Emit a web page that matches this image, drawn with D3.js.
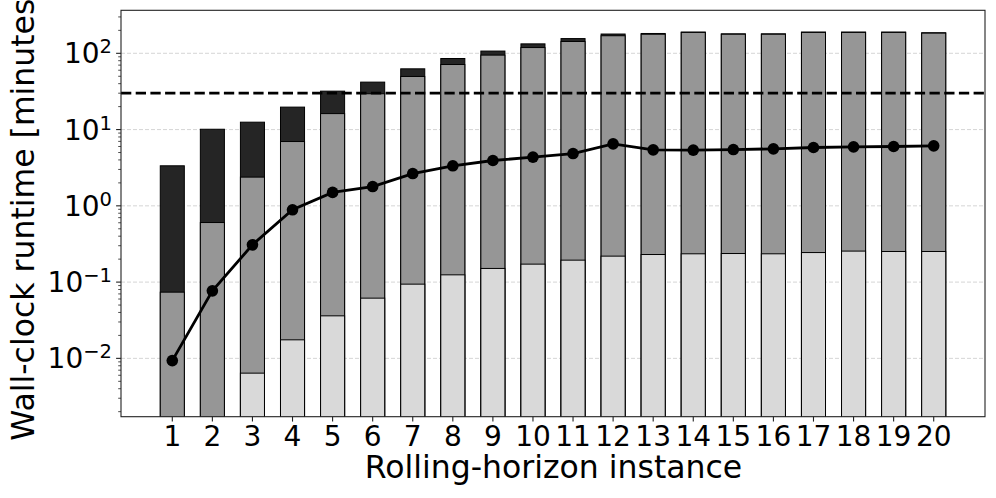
<!DOCTYPE html>
<html>
<head>
<meta charset="utf-8">
<script src="https://cdn.jsdelivr.net/npm/d3@7"></script>
<style>
  html, body { margin: 0; padding: 0; background: #ffffff; }
  svg { display: block; font-family: "DejaVu Sans", sans-serif; }
</style>
</head>
<body>
<svg id="chart" width="996" height="498"></svg>
<script>
// ---- Data ----
const instances = [1,2,3,4,5,6,7,8,9,10,11,12,13,14,15,16,17,18,19,20];
// top of light-gray segment (null = not shown)
const lightTop = [null, null, 0.0064, 0.0175, 0.0361, 0.0616, 0.094, 0.1245, 0.151, 0.172,
                  0.194, 0.219, 0.230, 0.235, 0.237, 0.235, 0.244, 0.255, 0.252, 0.252];
// top of medium-gray segment
const midTop = [0.0738, 0.604, 2.38, 6.97, 16.2, 29.5, 49.7, 71.3, 94.7, 119,
                143, 170, 178, 188, 178, 178, 188, 188, 188, 184];
// total (top of dark segment)
const totalTop = [3.35, 10.1, 12.5, 19.7, 31.9, 41.9, 62.6, 85.5, 107, 133,
                  156, 179, 182, 190, 180, 180, 190, 190, 190, 186];
// line series
const lineValues = [0.00935, 0.0768, 0.308, 0.887, 1.50, 1.79, 2.65, 3.35, 3.93, 4.35,
                    4.85, 6.5, 5.42, 5.37, 5.47, 5.59, 5.82, 5.94, 6.0, 6.12];
const thresholdValue = 30;
const yTickValues = [1e-2, 1e-1, 1e0, 1e1, 1e2];
const yTickExps = ["\u22122", "\u22121", "0", "1", "2"];
const xLabel = "Rolling-horizon instance";
const yLabel = "Wall-clock runtime [minutes]";

// ---- Layout ----
const plot = { left: 121, right: 985, top: 10.3, bottom: 416.7 };
const barWidth = 0.6;

const svg = d3.select("#chart");

const x = d3.scaleLinear()
  .domain([1 - 0.3 - 0.98, 20 + 0.3 + 0.98])
  .range([plot.left, plot.right]);

const y = d3.scaleLog()
  .domain([Math.pow(10, -2.765), Math.pow(10, 2.564)])
  .range([plot.bottom, plot.top]);

// clip
svg.append("defs").append("clipPath").attr("id", "clip")
  .append("rect")
  .attr("x", plot.left).attr("y", plot.top)
  .attr("width", plot.right - plot.left).attr("height", plot.bottom - plot.top);

// gridlines
svg.append("g")
  .selectAll("line").data(yTickValues).join("line")
  .attr("x1", plot.left).attr("x2", plot.right)
  .attr("y1", d => y(d)).attr("y2", d => y(d))
  .attr("stroke", "#cccccc").attr("stroke-width", 0.8)
  .attr("stroke-dasharray", "4,2");

const bars = svg.append("g").attr("clip-path", "url(#clip)");
const bw = x(barWidth) - x(0);

function drawLayer(values, color) {
  const data = instances.map((inst, i) => ({ inst, v: values[i] })).filter(d => d.v != null);
  bars.append("g").selectAll("rect").data(data).join("rect")
    .attr("x", d => x(d.inst) - bw / 2)
    .attr("width", bw)
    .attr("y", d => y(d.v))
    .attr("height", d => plot.bottom + 2 - y(d.v))
    .attr("fill", color)
    .attr("stroke", "#000000")
    .attr("stroke-width", 1);
}
drawLayer(totalTop, "#252525");
drawLayer(midTop, "#969696");
drawLayer(lightTop, "#d9d9d9");

// threshold dashed line
svg.append("line")
  .attr("x1", plot.left).attr("x2", plot.right)
  .attr("y1", y(thresholdValue)).attr("y2", y(thresholdValue))
  .attr("stroke", "#000").attr("stroke-width", 2.8)
  .attr("stroke-dasharray", "10.3,4.4");

// line with markers
const lineData = instances.map((inst, i) => ({ inst, v: lineValues[i] }));
svg.append("path")
  .datum(lineData)
  .attr("fill", "none").attr("stroke", "#000").attr("stroke-width", 2.8)
  .attr("d", d3.line().x(d => x(d.inst)).y(d => y(d.v)));
svg.append("g").selectAll("circle").data(lineData).join("circle")
  .attr("cx", d => x(d.inst)).attr("cy", d => y(d.v)).attr("r", 5.8)
  .attr("fill", "#000");

// axes frame
svg.append("rect")
  .attr("x", plot.left).attr("y", plot.top)
  .attr("width", plot.right - plot.left).attr("height", plot.bottom - plot.top)
  .attr("fill", "none").attr("stroke", "#222").attr("stroke-width", 1.1);

// y ticks: major
const yAxis = svg.append("g");
yAxis.selectAll("line.major").data(yTickValues).join("line")
  .attr("class", "major")
  .attr("x1", plot.left - 4.9).attr("x2", plot.left)
  .attr("y1", d => y(d)).attr("y2", d => y(d))
  .attr("stroke", "#222").attr("stroke-width", 1.1);
// minor
const minorVals = [];
for (let e = -3; e <= 2; e++) {
  for (let k = 2; k <= 9; k++) {
    const v = k * Math.pow(10, e);
    if (v >= y.domain()[0] && v <= y.domain()[1]) minorVals.push(v);
  }
}
yAxis.selectAll("line.minor").data(minorVals).join("line")
  .attr("class", "minor")
  .attr("x1", plot.left - 2.8).attr("x2", plot.left)
  .attr("y1", d => y(d)).attr("y2", d => y(d))
  .attr("stroke", "#222").attr("stroke-width", 0.8);

// y tick labels
const yl = yAxis.selectAll("text").data(yTickValues).join("text")
  .attr("x", plot.left - 9)
  .attr("y", d => y(d) + 10)
  .attr("text-anchor", "end")
  .attr("font-size", 28)
  .attr("fill", "#000");
yl.append("tspan").text("10");
yl.append("tspan").attr("dy", -10).attr("font-size", 19.5).text((d, i) => yTickExps[i]);

// x ticks
const xAxis = svg.append("g");
xAxis.selectAll("line").data(instances).join("line")
  .attr("x1", d => x(d)).attr("x2", d => x(d))
  .attr("y1", plot.bottom).attr("y2", plot.bottom + 4.9)
  .attr("stroke", "#222").attr("stroke-width", 1.1);
xAxis.selectAll("text").data(instances).join("text")
  .attr("x", d => x(d)).attr("y", plot.bottom + 29.5)
  .attr("text-anchor", "middle").attr("font-size", 28)
  .attr("fill", "#000")
  .text(d => d);

// axis labels
svg.append("text")
  .attr("x", (plot.left + plot.right) / 2 + 0.5)
  .attr("y", 478)
  .attr("text-anchor", "middle")
  .attr("font-size", 31.5)
  .attr("fill", "#000")
  .text(xLabel);

svg.append("text")
  .attr("transform", `translate(${34},${(plot.top + plot.bottom) / 2}) rotate(-90)`)
  .attr("text-anchor", "middle")
  .attr("font-size", 31.5)
  .attr("fill", "#000")
  .text(yLabel);
</script>
</body>
</html>
